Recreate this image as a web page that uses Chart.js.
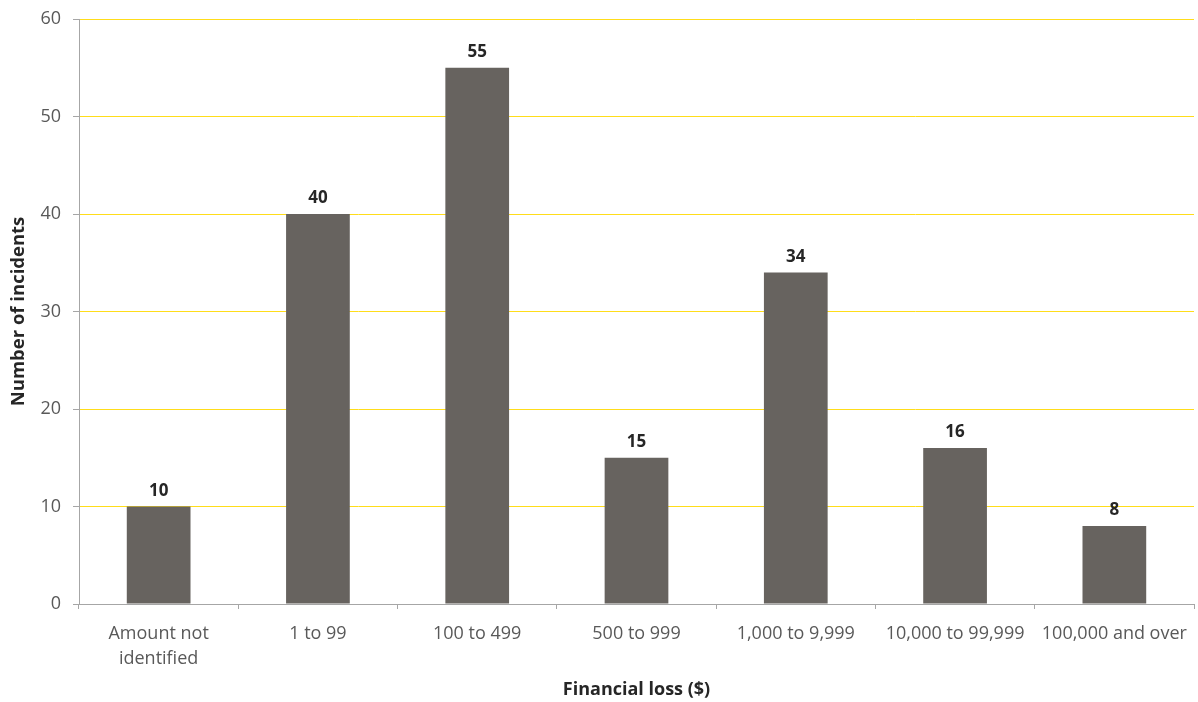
<!DOCTYPE html>
<html>
<head>
<meta charset="utf-8">
<script src="https://cdn.jsdelivr.net/npm/chart.js@4/dist/chart.umd.min.js"></script>
<style>
  html, body { margin: 0; padding: 0; background: #ffffff; overflow: hidden; }
  canvas { display: block; }
</style>
</head>
<body>
<canvas id="chart" width="1198" height="702" style="width:1198px;height:702px"></canvas>
<script>
// Loss bands and incident counts
const categories = [
  ['Amount not', 'identified'],
  '1 to 99',
  '100 to 499',
  '500 to 999',
  '1,000 to 9,999',
  '10,000 to 99,999',
  '100,000 and over'
];
const incidents = [10, 40, 55, 15, 34, 16, 8];
const yTicks = [0, 10, 20, 30, 40, 50, 60];

const FONT = '"Open Sans", Lato, sans-serif';
const AXIS_GREY = '#A6A6A6';
const GRID_YELLOW = '#FFDD1A';
const TICK_TEXT = '#595959';
const DARK_TEXT = '#262626';

// Draws each bar's value just above its top edge
const valueLabels = {
  id: 'valueLabels',
  afterDatasetsDraw(chart) {
    const ctx = chart.ctx;
    const meta = chart.getDatasetMeta(0);
    const data = chart.data.datasets[0].data;
    ctx.save();
    ctx.font = 'bold 17px ' + FONT;
    ctx.fillStyle = DARK_TEXT;
    ctx.textAlign = 'center';
    ctx.textBaseline = 'alphabetic';
    meta.data.forEach((bar, i) => {
      ctx.fillText(String(data[i]), bar.x, bar.y - 11);
    });
    ctx.restore();
  }
};

new Chart(document.getElementById('chart'), {
  type: 'bar',
  data: {
    labels: categories,
    datasets: [{
      data: incidents,
      backgroundColor: '#67635F',
      borderWidth: 0,
      categoryPercentage: 1.0,
      barPercentage: 0.4
    }]
  },
  options: {
    responsive: false,
    devicePixelRatio: 1,
    animation: false,
    layout: { padding: { left: 0, right: 4, top: 19, bottom: 0 } },
    plugins: {
      legend: { display: false },
      tooltip: { enabled: false }
    },
    scales: {
      x: {
        offset: true,
        border: { display: true, color: AXIS_GREY, width: 1 },
        grid: {
          drawOnChartArea: false,
          drawTicks: true,
          tickLength: 5,
          tickColor: AXIS_GREY,
          offset: true
        },
        ticks: {
          color: TICK_TEXT,
          font: { family: FONT, size: 18, lineHeight: 1.4 },
          padding: 12,
          maxRotation: 0,
          autoSkip: false
        },
        title: {
          display: true,
          text: 'Financial loss ($)',
          color: DARK_TEXT,
          font: { family: FONT, size: 18, weight: 'bold' },
          padding: { top: 0, bottom: 1 }
        },
        afterFit(axis) {
          axis.height = 98;
          axis.paddingLeft = 0;
          axis.paddingRight = 0;
        }
      },
      y: {
        min: 0,
        max: 60,
        afterBuildTicks(axis) { axis.ticks = yTicks.map(v => ({ value: v })); },
        border: { display: true, color: AXIS_GREY, width: 1 },
        grid: {
          color: GRID_YELLOW,
          lineWidth: 1,
          drawTicks: true,
          tickLength: 6,
          tickColor: AXIS_GREY
        },
        ticks: {
          color: TICK_TEXT,
          font: { family: FONT, size: 18 },
          padding: 12
        },
        title: {
          display: true,
          text: 'Number of incidents',
          color: DARK_TEXT,
          font: { family: FONT, size: 18.5, weight: 'bold' },
          padding: { top: 8, bottom: 0 }
        },
        afterFit(axis) {
          axis.width = 79;
          axis.paddingTop = 0;
          axis.paddingBottom = 0;
        }
      }
    }
  },
  plugins: [valueLabels]
});
</script>
</body>
</html>
